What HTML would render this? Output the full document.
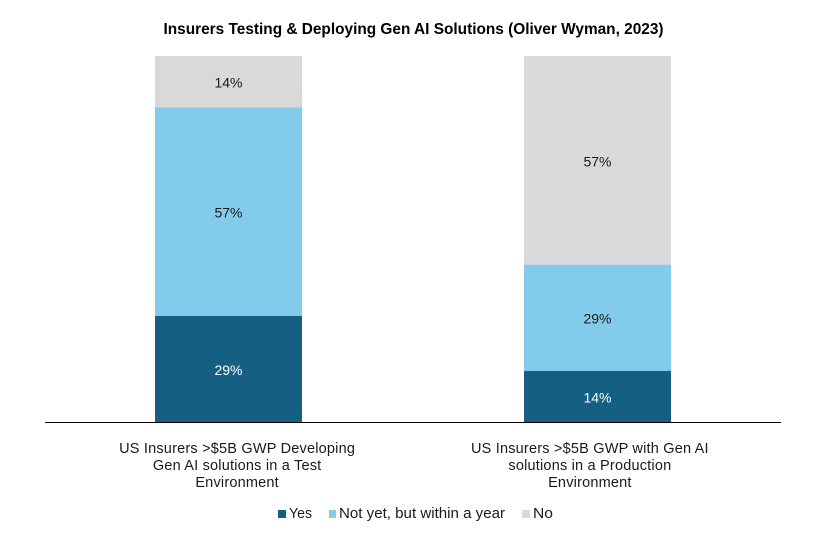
<!DOCTYPE html>
<html lang="en">
<head>
<meta charset="utf-8">
<title>Insurers Testing &amp; Deploying Gen AI Solutions</title>
<style>
html,body{margin:0;padding:0;background:#fff;width:816px;height:540px;overflow:hidden}
svg{display:block}
text{font-family:"Liberation Sans",sans-serif;fill:#1a1a1a}
</style>
</head>
<body>
<svg id="chart" width="816" height="540" viewBox="0 0 816 540" xmlns="http://www.w3.org/2000/svg">
  <rect x="0" y="0" width="816" height="540" fill="#ffffff"/>
  <text x="413.5" y="34" text-anchor="middle" font-size="16" font-weight="bold" textLength="500" lengthAdjust="spacingAndGlyphs" style="fill:#000">Insurers Testing &amp; Deploying Gen AI Solutions (Oliver Wyman, 2023)</text>
  <g id="bars"></g>
  <line x1="45" x2="781" y1="422.5" y2="422.5" stroke="#000" stroke-width="1"/>
  <g id="cats"></g>
  <g>
    <g>
      <rect x="278" y="510" width="8" height="8" fill="#156082"/>
      <text x="289" y="518" font-size="14.5" textLength="23" lengthAdjust="spacingAndGlyphs">Yes</text>
    </g>
    <g>
      <rect x="329" y="510" width="7" height="8" fill="#83cbeb"/>
      <text x="339" y="518" font-size="14.5" textLength="166" lengthAdjust="spacingAndGlyphs">Not yet, but within a year</text>
    </g>
    <g>
      <rect x="522" y="510" width="8" height="8" fill="#d9d9d9"/>
      <text x="533" y="518" font-size="14.5" textLength="20" lengthAdjust="spacingAndGlyphs">No</text>
    </g>
  </g>
</svg>
<script>
const categoryLines = [
  ["US Insurers >$5B GWP Developing", "Gen AI solutions in a Test", "Environment"],
  ["US Insurers >$5B GWP with Gen AI", "solutions in a Production", "Environment"]
];
const seriesNames = ["Yes", "Not yet, but within a year", "No"];
const yesValues = [29, 14];
const notYetValues = [57, 29];
const noValues = [14, 57];

const seriesValues = [yesValues, notYetValues, noValues];
const seriesColors = ["#156082", "#83cbeb", "#d9d9d9"];
const labelColors = ["#ffffff", "#1a1a1a", "#1a1a1a"];
const NS = "http://www.w3.org/2000/svg";
const plotLeft = 44, plotRight = 782, plotTop = 56, plotBottom = 422;
const barWidth = 147;

function totalFor(i) {
  return seriesValues.reduce((sum, s) => sum + s[i], 0);
}
function yScale(v, total) {
  return plotBottom - (v / total) * (plotBottom - plotTop);
}
function xCenter(i) {
  const band = (plotRight - plotLeft) / categoryLines.length;
  return plotLeft + band * (i + 0.5);
}
function labelCenter(i) {
  const mid = (plotLeft + plotRight) / 2;
  return xCenter(i) + (mid - xCenter(i)) * 0.044 + 0.5;
}

const barsG = document.getElementById("bars");
const catsG = document.getElementById("cats");

categoryLines.forEach((lines, i) => {
  let cum = 0;
  const total = totalFor(i);
  seriesValues.forEach((s, k) => {
    const v = s[i];
    const y0 = yScale(cum, total);
    const y1 = yScale(cum + v, total);
    const rect = document.createElementNS(NS, "rect");
    rect.setAttribute("x", xCenter(i) - barWidth / 2);
    rect.setAttribute("y", y1);
    rect.setAttribute("width", barWidth);
    rect.setAttribute("height", y0 - y1);
    rect.setAttribute("fill", seriesColors[k]);
    
    
    barsG.appendChild(rect);

    const t = document.createElementNS(NS, "text");
    t.setAttribute("x", xCenter(i));
    t.setAttribute("y", (y0 + y1) / 2 + 6);
    t.setAttribute("text-anchor", "middle");
    t.setAttribute("font-size", "14");
    t.style.fill = labelColors[k];
    t.textContent = v + "%";
    
    
    barsG.appendChild(t);
    cum += v;
  });

  lines.forEach((line, j) => {
    const t = document.createElementNS(NS, "text");
    t.setAttribute("x", labelCenter(i));
    t.setAttribute("y", 453 + j * 17);
    t.setAttribute("text-anchor", "middle");
    t.setAttribute("font-size", "14.5");
    t.setAttribute("letter-spacing", "0.2");
    t.textContent = line;
    
    
    catsG.appendChild(t);
  });
});
</script>
</body>
</html>
